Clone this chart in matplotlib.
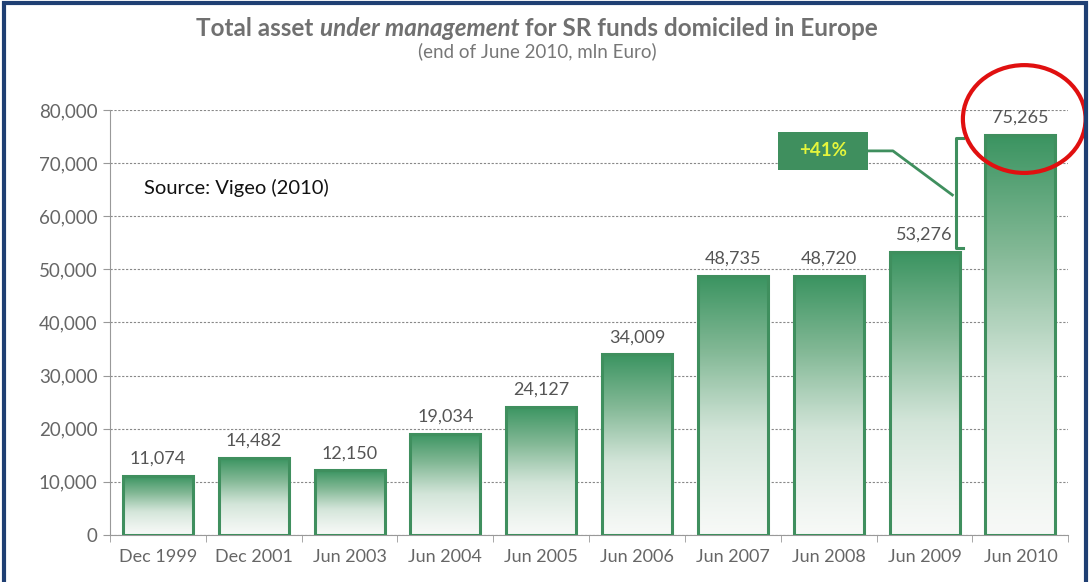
import numpy as np
import matplotlib.pyplot as plt
from matplotlib.patches import Rectangle, Ellipse
from matplotlib.colors import LinearSegmentedColormap

plt.rcParams['font.family'] = ['Lato', 'DejaVu Sans']

periods = ['Dec 1999', 'Dec 2001', 'Jun 2003', 'Jun 2004', 'Jun 2005',
           'Jun 2006', 'Jun 2007', 'Jun 2008', 'Jun 2009', 'Jun 2010']
aum = [11074, 14482, 12150, 19034, 24127, 34009, 48735, 48720, 53276, 75265]
yticks = [0, 10000, 20000, 30000, 40000, 50000, 60000, 70000, 80000]
growth_label = '+41%'
title_parts = [('Total asset ', 'normal'), ('under management', 'italic'),
               (' for SR funds domiciled in Europe', 'normal')]

green = '#3f8f5e'
gray = '#666666'

fig = plt.figure(figsize=(10.89, 5.82), dpi=100)
ax = fig.add_axes([0.101, 0.081, 0.880, 0.730])

x = np.arange(len(aum))
w = 0.73
cmap = LinearSegmentedColormap.from_list('g', ['#f7f9f7', '#d3e5d9', '#82b895', '#3b9461'])
grad = np.linspace(0, 1, 256).reshape(-1, 1) ** 1.2

bars = ax.bar(x, aum, width=w, facecolor='none', edgecolor=green, linewidth=2.2, zorder=3)
for b in bars:
    x0, h = b.get_x(), b.get_height()
    ax.imshow(grad, extent=[x0, x0 + w, 0, h], origin='lower', aspect='auto',
              cmap=cmap, zorder=2, interpolation='bicubic')
    ax.text(x0 + w / 2, h + 1700, f'{int(h):,}', ha='center', va='bottom',
            fontsize=13, color='#555555')

ax.set_xlim(-0.5, len(aum) - 0.5)
ax.set_ylim(0, 80000)
ax.set_yticks(yticks)
ax.set_yticklabels([f'{v:,}' for v in yticks], fontsize=13.5, color=gray)
ax.set_xticks(x)
ax.set_xticklabels(periods, fontsize=13, color=gray)
ax.set_xticks(np.arange(-0.5, len(aum), 1), minor=True)
ax.tick_params(axis='x', which='major', length=0, pad=10)
ax.tick_params(axis='x', which='minor', length=5, color='#999999', direction='out')
ax.tick_params(axis='y', length=5, color='#999999', pad=4)
ax.yaxis.grid(True, linestyle=(0, (2, 1.5)), color='#888888', linewidth=0.8, zorder=0)
ax.set_axisbelow(True)
for s in ['top', 'right']:
    ax.spines[s].set_visible(False)
for s in ['left', 'bottom']:
    ax.spines[s].set_color('#999999')

# growth annotation
ax.add_patch(Rectangle((6.47, 68700), 0.94, 7200, facecolor=green, edgecolor='none',
                       zorder=4, clip_on=False))
ax.text(6.94, 72300, growth_label, ha='center', va='center', fontsize=13.5,
        fontweight='bold', color='#e4f53c', zorder=5)
ax.plot([7.41, 7.67, 8.29], [72300, 72300, 64000], color=green, lw=2, zorder=4)
ax.plot([8.40, 8.33, 8.33, 8.40], [74700, 74700, 54000, 54000], color=green, lw=2.2, zorder=4)

# highlight ellipse
ax.add_patch(Ellipse((9.04, 78300), 1.28, 20300, fill=False, edgecolor='#e01010',
                     lw=3, zorder=6, clip_on=False))

ax.text(-0.14, 65300, 'Source: Vigeo (2010)', fontsize=14.5, color='#111111', va='center')

# title made of pieces, centred as a whole
fig.canvas.draw()
r = fig.canvas.get_renderer()
pieces = []
for s, st in title_parts:
    t = fig.text(0, 0.951, s, fontsize=17.5, fontweight='bold', style=st,
                 color='#707070', ha='left', va='center')
    pieces.append(t)
widths = [t.get_window_extent(r).width for t in pieces]
xpos = 537 - sum(widths) / 2
for t, wd in zip(pieces, widths):
    t.set_x(xpos / fig.bbox.width)
    xpos += wd
fig.text(537 / 1089, 0.912, '(end of June 2010, mln Euro)', fontsize=13.5, color='#777777',
         ha='center', va='center')

# frame
fig.add_artist(Rectangle((0.004, -0.01), 0.993, 1.004, transform=fig.transFigure,
                         fill=False, edgecolor='#1f3f73', lw=3))

fig.savefig('out.png', dpi=100)
